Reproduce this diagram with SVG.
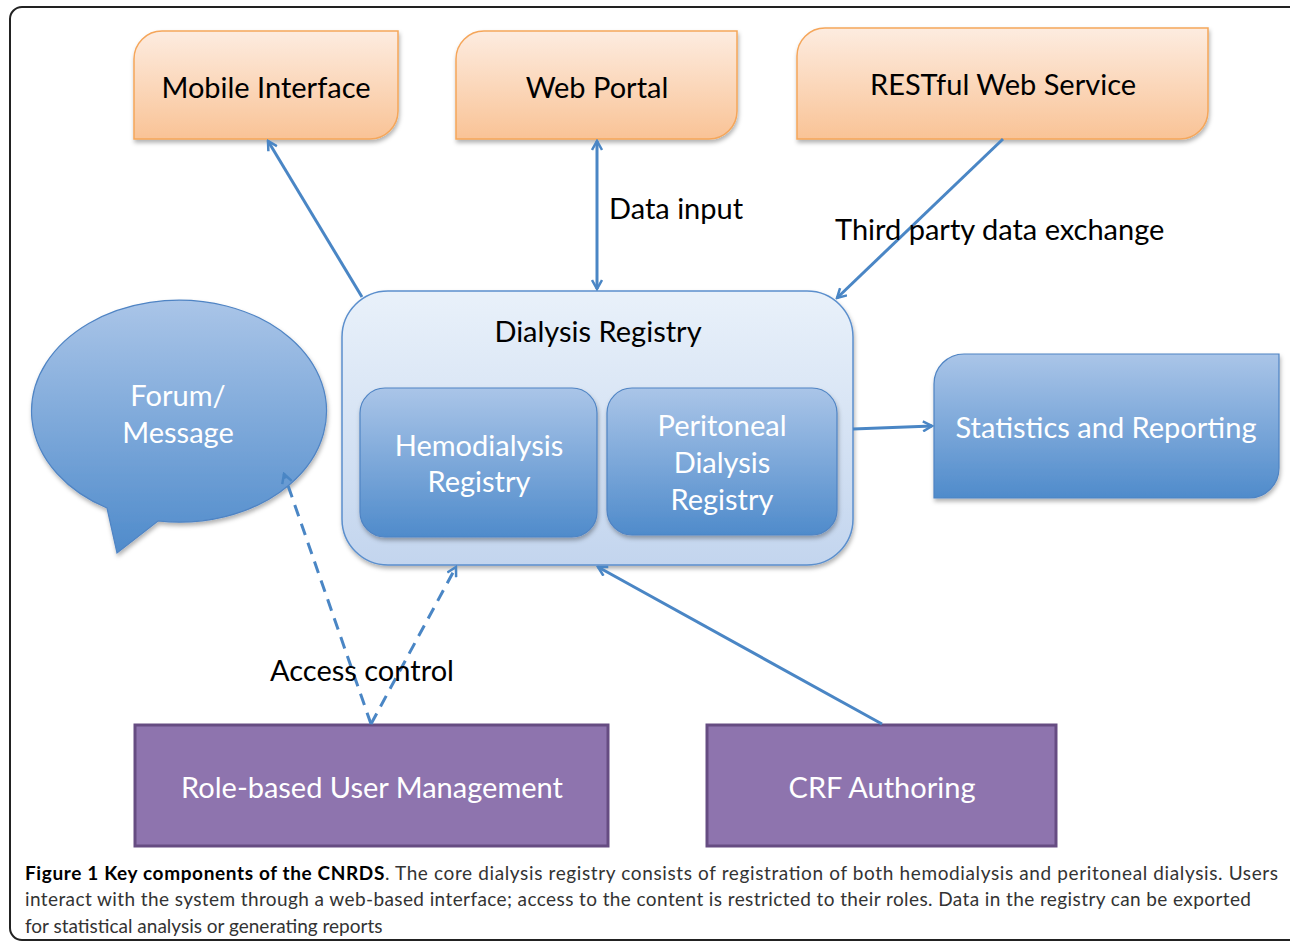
<svg xmlns="http://www.w3.org/2000/svg" width="1290" height="945" viewBox="0 0 1290 945">
<defs>
<linearGradient id="gOr" x1="0" y1="0" x2="0" y2="1"><stop offset="0" stop-color="#fdece0"/><stop offset="1" stop-color="#f9c396"/></linearGradient>
<linearGradient id="gBl" x1="0" y1="0" x2="0" y2="1"><stop offset="0" stop-color="#aac5e8"/><stop offset="1" stop-color="#4f8bcb"/></linearGradient>
<linearGradient id="gReg" x1="0" y1="0" x2="0" y2="1"><stop offset="0" stop-color="#e9f1fa"/><stop offset="1" stop-color="#c3d5ee"/></linearGradient>
<filter id="sh" x="-10%" y="-10%" width="120%" height="130%"><feDropShadow dx="1" dy="3" stdDeviation="2" flood-color="#000" flood-opacity="0.3"/></filter>
<marker id="ah" viewBox="0 0 12 12" refX="10" refY="6" markerWidth="12" markerHeight="12" markerUnits="userSpaceOnUse" orient="auto-start-reverse"><path d="M1,1 L10,6 L1,11" fill="none" stroke="#4a86c5" stroke-width="2.5"/></marker>
</defs>
<style>
.or{fill:url(#gOr);stroke:#f5a65a;stroke-width:1.5}
.bl{fill:url(#gBl);stroke:#4f84c4;stroke-width:1.2}
.pu{fill:#8e74ae;stroke:#664c82;stroke-width:3}
.t{font-family:Lato,"Open Sans",sans-serif;font-size:29px;text-anchor:middle}
.k{fill:#000}
.w{fill:#fff}
.lbl{font-family:Lato,"Open Sans",sans-serif;font-size:29px;fill:#000}
.c{stroke:#4a86c5;stroke-width:3;fill:none}
.d{stroke:#4a86c5;stroke-width:3;fill:none;stroke-dasharray:12,8}
.cap{font-family:Lato,"Open Sans",sans-serif;font-size:19px;fill:#333}
</style>
<rect width="1290" height="945" fill="#fff"/>
<rect x="10" y="7" width="1300" height="933" rx="12" fill="none" stroke="#222" stroke-width="2"/>

<g id="mobile"><path class="or" filter="url(#sh)" d="M162,31 H398 V111 A28,28 0 0 1 370,139 H134 V59 A28,28 0 0 1 162,31 Z"/><text class="t k" x="266" y="98">Mobile Interface</text></g>
<g id="webportal"><path class="or" filter="url(#sh)" d="M484,31 H737 V111 A28,28 0 0 1 709,139 H456 V59 A28,28 0 0 1 484,31 Z"/><text class="t k" x="597" y="98">Web Portal</text></g>
<g id="restful"><path class="or" filter="url(#sh)" d="M825,28 H1208 V111 A28,28 0 0 1 1180,139 H797 V56 A28,28 0 0 1 825,28 Z"/><text class="t k" x="1003" y="95">RESTful Web Service</text></g>

<g id="registry"><rect x="342" y="291" width="511" height="274" rx="46" fill="url(#gReg)" stroke="#5b8fcd" stroke-width="1.5" filter="url(#sh)"/><text class="t k" x="598" y="342">Dialysis Registry</text></g>
<g id="hemo"><rect class="bl" filter="url(#sh)" x="360" y="388" width="237" height="149" rx="25"/><text class="t w" x="479" y="456">Hemodialysis</text><text class="t w" x="479" y="492">Registry</text></g>
<g id="peritoneal"><rect class="bl" filter="url(#sh)" x="607" y="388" width="230" height="147" rx="25"/><text class="t w" x="722" y="436">Peritoneal</text><text class="t w" x="722" y="473">Dialysis</text><text class="t w" x="722" y="510">Registry</text></g>

<g id="forum"><path class="bl" filter="url(#sh)" d="M107,508 A147.5,111 0 1 1 158,521 L117,553 Z"/><text class="t w" x="178" y="406">Forum/</text><text class="t w" x="178" y="443">Message</text></g>

<g id="stats"><path class="bl" filter="url(#sh)" d="M964,354 H1279 V468 A30,30 0 0 1 1249,498 H934 V384 A30,30 0 0 1 964,354 Z"/><text class="t w" x="1106" y="438">Statistics and Reporting</text></g>

<g id="rbum"><rect class="pu" x="135" y="725" width="473" height="121"/><text class="t w" x="372" y="798">Role-based User Management</text></g>
<g id="crf"><rect class="pu" x="707" y="725" width="349" height="121"/><text class="t w" x="882" y="798">CRF Authoring</text></g>

<g id="connectors">
<line class="c" x1="362" y1="297" x2="268" y2="141" marker-end="url(#ah)"/>
<line class="c" x1="597" y1="141" x2="597" y2="289" marker-start="url(#ah)" marker-end="url(#ah)"/>
<line class="c" x1="1003" y1="139" x2="837" y2="298" marker-end="url(#ah)"/>
<line class="c" x1="853" y1="429" x2="932" y2="426" marker-end="url(#ah)"/>
<line class="c" x1="882" y1="724" x2="598" y2="567" marker-end="url(#ah)"/>
<line class="d" x1="371" y1="724" x2="284" y2="474" marker-end="url(#ah)"/>
<line class="d" x1="371" y1="724" x2="456" y2="567" marker-end="url(#ah)"/>
</g>

<text class="lbl" x="609" y="219">Data input</text>
<text class="lbl" x="835" y="240">Third party data exchange</text>
<text class="lbl" x="270" y="681">Access control</text>

<text class="cap" x="25" y="880" textLength="1253" lengthAdjust="spacing"><tspan font-weight="bold" fill="#000">Figure 1 Key components of the CNRDS</tspan>. The core dialysis registry consists of registration of both hemodialysis and peritoneal dialysis. Users</text>
<text class="cap" x="25" y="906" textLength="1226" lengthAdjust="spacing">interact with the system through a web-based interface; access to the content is restricted to their roles. Data in the registry can be exported</text>
<text class="cap" x="25" y="933">for statistical analysis or generating reports</text>
</svg>
